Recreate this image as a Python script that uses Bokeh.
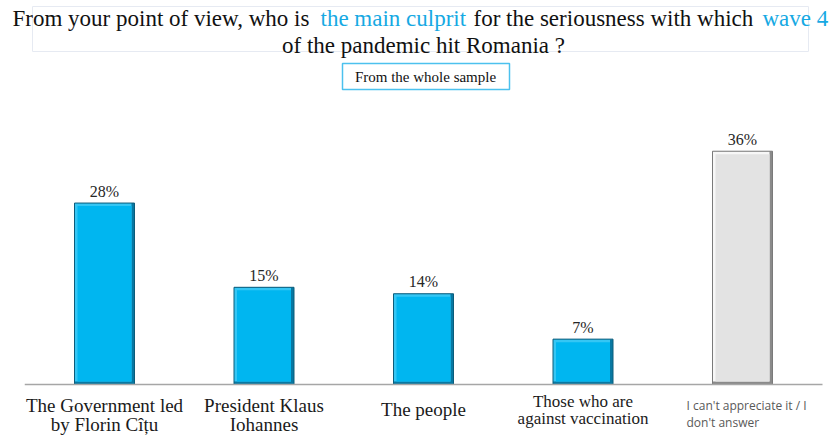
from bokeh.plotting import figure
from bokeh.models import Range1d, Label
from bokeh.core.properties import value
from bokeh.embed import file_html
from bokeh.resources import INLINE

# ---------------- data ----------------
categories = [
    "The Government led\nby Florin Cîțu",
    "President Klaus\nIohannes",
    "The people",
    "Those who are\nagainst vaccination",
    "I can't appreciate it / I\ndon't answer",
]
values = [28, 15, 14, 7, 36]
value_labels = ["28%", "15%", "14%", "7%", "36%"]
title_line1 = [
    ("From your point of view, who is", "black"),
    ("the main culprit", "cyan"),
    ("for the seriousness with which", "black"),
    ("wave 4", "cyan"),
]
title_line2 = "of the pandemic hit Romania ?"
subtitle = "From the whole sample"

# ---------------- layout helpers ----------------
W, H = 829, 436
KX = 159.5           # px per category step
KY = 6.48            # px per percentage point
XS = -104 / KX
XE = XS + W / KX
YS = -(H - 384) / KY
YE = YS + H / KY


def px(xp):  # picture x pixel -> data x
    return XS + xp / KX


def py(yp):  # picture y pixel -> data y
    return YE - yp / KY


SERIF = "Liberation Serif"
SANS = "Open Sans"
CYAN_TXT = "#16A9E3"

p = figure(width=W, height=H, x_range=Range1d(XS, XE), y_range=Range1d(YS, YE),
           output_backend="svg", toolbar_location=None,
           x_axis_location=None, y_axis_location=None, min_border=0)
p.outline_line_color = None
p.xgrid.visible = False
p.ygrid.visible = False
p.background_fill_color = "white"
p.border_fill_color = "white"

# ---------------- bars with bevel ----------------
idx = list(range(len(values)))
n = len(values)
hw = 30 / KX
bx = 3 / KX
by = 3 / KY
is_other = [i == n - 1 for i in idx]
dark = ["#8A8A8A" if o else "#0878A2" for o in is_other]
light = ["#F7F7F7" if o else "#35C6F4" for o in is_other]
main = ["#E3E3E3" if o else "#00B6F0" for o in is_other]
outline = ["#7A7A7A" if o else "#0B5C7B" for o in is_other]

left = [i - hw for i in idx]
right = [i + hw for i in idx]
p.quad(left=left, right=right, bottom=[0] * n, top=values, fill_color=dark, line_color=None)
p.quad(left=left, right=[r - bx for r in right], bottom=[by] * n, top=values,
       fill_color=light, line_color=None)
p.quad(left=[l + bx for l in left], right=[r - bx for r in right], bottom=[by] * n,
       top=[v - by for v in values], fill_color=main, line_color=None)
p.quad(left=left, right=right, bottom=[0] * n, top=values, fill_color=None,
       line_color=outline, line_width=1)

# baseline
p.segment(x0=[-0.5], y0=[0], x1=[px(822)], y1=[0], line_color="#A6A6A6", line_width=1.5)

# value labels
p.text(x=idx, y=[v + 12 / KY for v in values], text=value_labels,
       text_font=value(SERIF), text_font_size="16px", text_color="#262626",
       text_align="center", text_baseline="middle")

# category labels (offsets in px below the baseline, line centres)
for i, cat in enumerate(categories):
    lines = cat.split("\n")
    if i == n - 1:
        font, size, color, align, xoff = SANS, "12px", "#595959", "left", -56 / KX
        mids = [21, 38]
    elif i == 3:
        font, size, color, align, xoff = SERIF, "17px", "#1A1A1A", "center", 0
        mids = [17, 34]
    else:
        font, size, color, align, xoff = SERIF, "19px", "#1A1A1A", "center", 0
        mids = [21, 40] if len(lines) > 1 else [25]
    p.text(x=[i + xoff] * len(lines), y=[-m / KY for m in mids[:len(lines)]], text=lines,
           text_font=value(font), text_font_size=size, text_color=color,
           text_align=align, text_baseline="middle")

# ---------------- title ----------------
p.quad(left=[px(32)], right=[px(808)], top=[py(6)], bottom=[py(51)],
       fill_color=None, line_color="#E6EAF2", line_width=1)
starts = [12, 320, 473, 762]
for (txt, col), xs in zip(title_line1, starts):
    p.add_layout(Label(x=px(xs), y=py(18), text=txt, text_font=SERIF, text_font_size="23px",
                       text_color=CYAN_TXT if col == "cyan" else "#111111",
                       text_align="left", text_baseline="middle"))
p.add_layout(Label(x=px(423), y=py(45), text=title_line2, text_font=SERIF,
                   text_font_size="23px", text_color="#111111",
                   text_align="center", text_baseline="middle"))

# subtitle box
p.quad(left=[px(342)], right=[px(509)], top=[py(63)], bottom=[py(89)],
       fill_color="white", line_color="#4CC1EE", line_width=1.5)
p.add_layout(Label(x=px(425), y=py(76), text=subtitle, text_font=SERIF,
                   text_font_size="15px", text_color="#111111",
                   text_align="center", text_baseline="middle"))

open("out.html", "w").write(file_html(p, INLINE))
